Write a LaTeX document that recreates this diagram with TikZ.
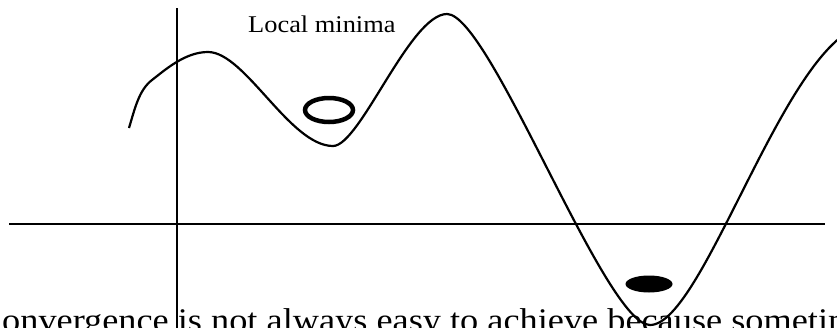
\documentclass[tikz,border=0pt]{standalone}
\usepackage{fontspec}
\setmainfont{Liberation Serif}
\usetikzlibrary{shapes.geometric}
\begin{document}
\begin{tikzpicture}[x=1pt,y=-1pt,
  axisline/.style={line width=2pt,black},
  curveline/.style={line width=2.2pt,black},
  txt/.style={inner sep=0pt,anchor=base west}]
\useasboundingbox (0,0) rectangle (837,327);
\clip (0,0) rectangle (837,327);
% axes
\coordinate (hl) at (9,224);
\coordinate (hr) at (825,224);
\coordinate (vt) at (176.5,8);
\coordinate (vb) at (176.5,340);
\draw[axisline] (hl) -- (hr);
\draw[axisline] (vt) -- (vb);
% curve
\draw[curveline] (129,128) .. controls (135,108) and (139,90) .. (152,80)
  .. controls (165,70) and (185,52) .. (208,52)
  .. controls (245,52) and (290,146) .. (333,146)
  .. controls (360,146) and (410,14) .. (447,14)
  .. controls (490,14) and (605,325) .. (650,325)
  .. controls (705,325) and (790,25) .. (870,25);
% balls
\node[draw,line width=4.5pt,ellipse,minimum width=48pt,minimum height=24pt,inner sep=0pt] (ball1) at (329,110) {};
\node[fill=black,ellipse,minimum width=47pt,minimum height=17pt,inner sep=0pt] (ball2) at (649,284) {};
% texts
\node[txt,font=\fontsize{24}{28}\selectfont] (lm) at (248,32) {\scalebox{1.1}[1]{Local minima}};
\node[txt,font=\fontsize{33}{38}\selectfont] (bottom) at (2,331) {\scalebox{1.1}[1]{onvergence is not always easy to achieve because sometim}};
\end{tikzpicture}
\end{document}
